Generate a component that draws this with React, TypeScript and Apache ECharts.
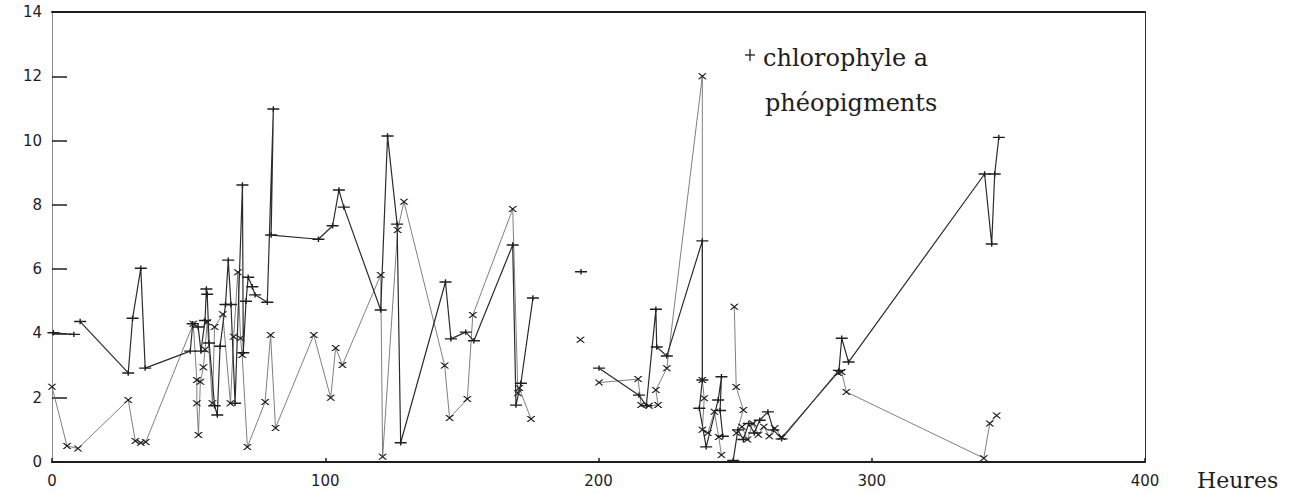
import React, { useEffect, useRef } from "react";
import * as echarts from "echarts";

// Time in hours (x) and concentrations (y); null marks a gap in the record
const chlX = [0.5, 8, null, 10.3, 27.9, 29.5, 32.5, 34.1, 50.6, 51.5, 53.5, 54.5, 56, 56.5, 56.8, 57.5, 59.5, 60.5, 61.5, 63.5, 64.5, 65.5, 67, 69.7, 70, 71, 71.8, 73.3, 74.3, 78.8, 81, 80.2, 97.5, 102.7, 105, 106.8, 120.3, 122.8, 126.3, 127.6, 144, 146, 151.4, 154.4, 168.6, 169.8, 171.6, 176, null, 193.6, null, 200.2, 214.8, 217.5, 221, 221.3, 225, 238, 238, 236.9, 239.4, 243.8, 245, 244.5, 245.5, null, 249.3, 251, 253, 255, 257, 259, 262, 264, 267, 288, 289, 291.5, 341.3, 343.9, 345, 346.5];
const chlY = [4.02, 3.97, null, 4.37, 2.77, 4.47, 6.03, 2.92, 3.45, 4.3, 4.2, 3.45, 4.4, 5.38, 5.22, 3.7, 1.75, 1.46, 3.6, 4.9, 6.28, 4.9, 1.83, 8.62, 3.4, 5.0, 5.75, 5.45, 5.2, 4.97, 10.98, 7.06, 6.93, 7.35, 8.46, 7.93, 4.73, 10.14, 7.4, 0.6, 5.6, 3.83, 4.04, 3.77, 6.75, 1.77, 2.45, 5.1, null, 5.92, null, 2.92, 2.08, 1.75, 4.75, 3.58, 3.3, 6.88, 2.55, 1.67, 0.47, 1.93, 2.65, 1.6, 0.8, null, 0.05, 1.0, 0.7, 1.2, 0.9, 1.3, 1.56, 1.0, 0.72, 2.85, 3.85, 3.11, 8.96, 6.78, 8.96, 10.1];

const pheoX = [0, 5.5, 9.5, 27.9, 30.5, 32.5, 34.3, 51.7, 53, 53, 53.6, 54.3, 55.4, 56, 56.8, 58.7, 59.5, 62.5, 65.3, 66.5, 68, 69, 69.6, 71.5, 78, 80, 81.8, 95.8, 102, 103.8, 106.3, 120.3, 121, 126.5, 128.8, 143.7, 145.5, 152, 154, 168.6, 170.5, 171, 175.3, null, 193.4, null, 200.2, 214.5, 215.6, 218.5, 221.8, 221, 225, 238, 238, 238.7, 238, 240, 242.4, 244, 245, null, 249.7, 250.4, 253, 250.5, 252.5, 254.5, 256.5, 258.5, 260.5, 262.5, 264.5, 267, 287.7, 289, 290.7, 341, 343.2, 345.7];
const pheoY = [2.34, 0.5, 0.42, 1.93, 0.65, 0.6, 0.62, 4.3, 2.55, 1.83, 0.84, 2.5, 2.95, 3.5, 4.35, 1.83, 4.2, 4.6, 1.83, 3.9, 5.9, 3.85, 3.33, 0.47, 1.87, 3.95, 1.06, 3.95, 2.0, 3.55, 3.02, 5.82, 0.16, 7.22, 8.1, 3.0, 1.37, 1.96, 4.57, 7.87, 2.14, 2.3, 1.34, null, 3.8, null, 2.47, 2.58, 1.77, 1.75, 1.77, 2.24, 2.92, 12.0, 2.55, 1.98, 1.0, 0.9, 1.56, 0.78, 0.22, null, 4.83, 2.33, 1.62, 0.9, 1.1, 0.7, 1.2, 0.85, 1.1, 0.8, 1.05, 0.78, 2.77, 2.8, 2.18, 0.12, 1.2, 1.45];

const xTicks = { min: 0, max: 400, interval: 100 };
const yTicks = { min: 0, max: 14, interval: 2 };
const legendLabels = ["chlorophyle a", "phéopigments"];
const xAxisTitle = "Heures";

function toData(xs: (number | null)[], ys: (number | null)[]) {
  return xs.map((x, i) => (x === null || ys[i] === null ? ["-", "-"] : [x, ys[i]]));
}

const INK = "#1e1e1e";
const labelFont = { fontFamily: "DejaVu Sans", fontSize: 15, color: INK };

export default function App() {
  const ref = useRef<HTMLDivElement>(null);
  useEffect(() => {
    if (!ref.current) return;
    const chart = echarts.init(ref.current, null, { renderer: "svg" });
    chart.setOption({
      animation: false,
      backgroundColor: "#ffffff",
      grid: { left: 52, right: 155, top: 12, bottom: 32, outerBoundsMode: "none" },
      xAxis: [
        {
          type: "value",
          position: "bottom",
          ...xTicks,
          axisLine: { show: true, onZero: false, lineStyle: { color: INK, width: 2 } },
          axisTick: { show: true, inside: true, length: 4, lineStyle: { color: INK, width: 1.5 } },
          axisLabel: { ...labelFont, margin: 11 },
          splitLine: { show: false },
        },
        {
          type: "value",
          position: "top",
          ...xTicks,
          axisLine: { show: true, onZero: false, lineStyle: { color: INK, width: 2 } },
          axisTick: { show: false },
          axisLabel: { show: false },
          splitLine: { show: false },
        },
      ],
      yAxis: [
        {
          type: "value",
          position: "left",
          ...yTicks,
          axisLine: { show: true, onZero: false, lineStyle: { color: "#8a8a8a", width: 1 } },
          axisTick: { show: true, inside: true, length: 15, lineStyle: { color: INK, width: 1.5 } },
          axisLabel: { ...labelFont, margin: 10 },
          splitLine: { show: false },
        },
        {
          type: "value",
          position: "right",
          ...yTicks,
          axisLine: { show: true, onZero: false, lineStyle: { color: "#333", width: 1 } },
          axisTick: { show: false },
          axisLabel: { show: false },
          splitLine: { show: false },
        },
      ],
      series: [
        {
          name: legendLabels[0],
          type: "line",
          xAxisIndex: 0,
          yAxisIndex: 0,
          data: toData(chlX, chlY),
          connectNulls: false,
          symbol: "path://M0,2 H12 V3.4 H0 Z M5.3,0 H6.7 V5.4 H5.3 Z",
          symbolSize: [12, 5.4],
          symbolKeepAspect: false,
          itemStyle: { color: INK },
          lineStyle: { color: "#2b2b2b", width: 1.2 },
          z: 3,
        },
        {
          name: legendLabels[1],
          type: "line",
          xAxisIndex: 0,
          yAxisIndex: 0,
          data: toData(pheoX, pheoY),
          connectNulls: false,
          symbol: "path://M0,0 L2,0 L10,6 L8,6 Z M8,0 L10,0 L2,6 L0,6 Z",
          symbolSize: [9, 6],
          symbolKeepAspect: false,
          itemStyle: { color: INK },
          lineStyle: { color: "#707070", width: 0.9 },
          z: 2,
        },
      ],
      graphic: [
        { type: "line", shape: { x1: 745, y1: 55, x2: 755, y2: 55 }, style: { stroke: INK, lineWidth: 1.3 } },
        { type: "line", shape: { x1: 750, y1: 49, x2: 750, y2: 61 }, style: { stroke: INK, lineWidth: 1.3 } },
        {
          type: "text",
          x: 763,
          y: 58,
          style: { text: legendLabels[0], font: "24px 'DejaVu Serif'", fill: INK, textVerticalAlign: "middle", verticalAlign: "middle" },
        },
        {
          type: "text",
          x: 765,
          y: 103,
          style: { text: legendLabels[1], font: "24px 'DejaVu Serif'", fill: INK, textVerticalAlign: "middle", verticalAlign: "middle" },
        },
        {
          type: "text",
          x: 1197,
          y: 480,
          style: { text: xAxisTitle, font: "22px 'DejaVu Serif'", fill: INK, textVerticalAlign: "middle", verticalAlign: "middle" },
        },
      ],
    });
    return () => chart.dispose();
  }, []);
  return <div ref={ref} style={{ position: "absolute", left: 0, top: 0, width: 1300, height: 494 }} />;
}
